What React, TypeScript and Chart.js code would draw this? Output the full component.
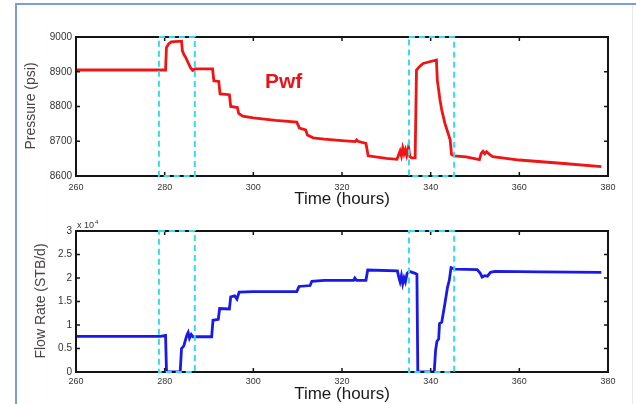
import React, { useEffect, useRef } from "react";
import { Chart, registerables } from "chart.js";

Chart.register(...registerables);

// Axis ticks
const timeTicks = [260, 280, 300, 320, 340, 360, 380];
const pressureTicks = [8600, 8700, 8800, 8900, 9000];
const flowTicks = [0, 0.5, 1, 1.5, 2, 2.5, 3];

// Bottom-hole flowing pressure (psi) vs time (hours)
const pressureTime = [
  260, 279.0, 280.2, 280.4, 280.9, 281.5, 283.8, 284.0, 284.4, 284.8, 285.3, 285.8, 286.3, 286.8,
  290.8, 291.1, 292.2, 292.5, 294.6, 294.9, 296.4, 296.7, 297.6, 300, 305, 309.8, 310.4, 311.8,
  312.2, 313.5, 316, 320, 323.0, 323.3, 323.6, 325.4, 325.9, 330, 332.4, 332.8, 333.1, 333.4,
  333.7, 334.0, 334.3, 334.6, 335.0, 335.3, 335.7, 336.5, 336.8, 337.5, 338.3, 341.3, 341.5,
  342.1, 342.5, 343.2, 344.4, 344.7, 345.3, 348, 351.0, 351.4, 351.8, 352.2, 352.6, 353.2,
  354.0, 360, 370, 378.5,
];
const pressureValue = [
  8905, 8905, 8905, 8970, 8980, 8986, 8988, 8960, 8948, 8940, 8926, 8912, 8904, 8908,
  8908, 8874, 8872, 8836, 8834, 8800, 8797, 8780, 8772, 8767, 8760, 8755, 8738, 8733,
  8718, 8710, 8706, 8702, 8699, 8704, 8700, 8694, 8658, 8651, 8648, 8662, 8672, 8658,
  8680, 8664, 8676, 8660, 8684, 8656, 8652, 8652, 8905, 8915, 8924, 8934, 8876,
  8819, 8790, 8752, 8704, 8662, 8658, 8655, 8647, 8665, 8671, 8664, 8670, 8663,
  8656, 8646, 8636, 8627,
];

// Flow rate (x10^4 STB/d) vs time (hours)
const flowTime = [
  260, 279.0, 280.2, 280.4, 280.6, 283.5, 283.8, 284.3, 284.6, 285.0, 285.3, 285.6, 286.0, 286.4,
  290.6, 290.9, 292.1, 292.4, 294.6, 294.9, 295.8, 296.3, 296.8, 300, 309.8, 310.3, 312.8, 313.2,
  316, 322.6, 322.9, 323.3, 325.4, 325.8, 332.5, 332.8, 333.1, 333.4, 333.7, 334.0, 334.3, 334.7,
  335.2, 336.5, 336.9, 337.1, 340.8, 341.1, 341.4, 341.8, 342.0, 342.5, 343.2, 343.8, 344.2,
  344.6, 345.5, 350.5, 351.2, 351.6, 352.2, 352.8, 353.5, 354.5, 365, 378.5,
];
const flowValue = [
  0.76, 0.76, 0.78, 0.05, 0, 0, 0.5, 0.55, 0.65, 0.78, 0.84, 0.72, 0.8, 0.75,
  0.75, 1.1, 1.12, 1.35, 1.34, 1.6, 1.62, 1.55, 1.7, 1.71, 1.71, 1.82, 1.84, 1.93,
  1.95, 1.95, 2.0, 1.95, 1.95, 2.17, 2.15, 2.02, 1.92, 2.05, 1.88, 2.0, 1.92, 2.1,
  2.14, 2.1, 2.08, 0, 0, 0.45, 0.65, 0.7, 1.03, 1.06, 1.45, 1.8, 1.95,
  2.22, 2.19, 2.18, 2.1, 2.02, 2.05, 2.04, 2.12, 2.14, 2.13, 2.12,
];

// Highlighted shut-in windows (hours)
const windowStart = [278.7, 335.1];
const windowEnd = [286.8, 345.3];

const FONT = "'Liberation Sans', Arial, Helvetica, sans-serif";
const W = 636;

type TextFn = (ctx: CanvasRenderingContext2D) => void;

function framePlugin(drawText: TextFn) {
  return {
    id: "frame",
    afterDatasetsDraw(chart: any) {
      const { ctx, chartArea: a, scales } = chart;
      const xs = scales.x;
      const ys = scales.y;
      ctx.save();
      // axes box
      ctx.strokeStyle = "#141414";
      ctx.lineWidth = 2;
      ctx.strokeRect(a.left, a.top, a.right - a.left, a.bottom - a.top);
      // inward tick marks on all four sides
      ctx.lineWidth = 1.5;
      const tl = 4;
      ctx.beginPath();
      xs.ticks.forEach((t: any) => {
        const px = xs.getPixelForValue(t.value);
        ctx.moveTo(px, a.bottom);
        ctx.lineTo(px, a.bottom - tl);
        ctx.moveTo(px, a.top);
        ctx.lineTo(px, a.top + tl);
      });
      ys.ticks.forEach((t: any) => {
        const py = ys.getPixelForValue(t.value);
        ctx.moveTo(a.left, py);
        ctx.lineTo(a.left + tl, py);
        ctx.moveTo(a.right, py);
        ctx.lineTo(a.right - tl, py);
      });
      ctx.stroke();
      // dashed shut-in windows
      ctx.strokeStyle = "#35dcec";
      ctx.lineWidth = 2;
      ctx.setLineDash([6, 4]);
      for (let i = 0; i < windowStart.length; i++) {
        const l = xs.getPixelForValue(windowStart[i]);
        const r = xs.getPixelForValue(windowEnd[i]);
        ctx.strokeRect(l, a.top, r - l, a.bottom - a.top);
      }
      ctx.setLineDash([]);
      drawText(ctx);
      ctx.restore();
    },
  };
}

function buildChart(
  canvas: HTMLCanvasElement,
  times: number[],
  values: number[],
  color: string,
  yTicks: number[],
  padTop: number,
  xAxisHeight: number,
  xTickPad: number,
  drawText: TextFn
) {
  const data = times.map((t, i) => ({ x: t, y: values[i] }));
  return new Chart(canvas, {
    type: "line",
    data: {
      datasets: [
        {
          data,
          borderColor: color,
          borderWidth: 2.8,
          pointRadius: 0,
          tension: 0,
          fill: false,
        },
      ],
    },
    options: {
      animation: false,
      responsive: false,
      devicePixelRatio: 1,
      layout: { padding: { left: 0, top: padTop, right: 28, bottom: 0 } },
      plugins: { legend: { display: false }, tooltip: { enabled: false } },
      scales: {
        x: {
          type: "linear",
          min: timeTicks[0],
          max: timeTicks[timeTicks.length - 1],
          afterBuildTicks: (s: any) => {
            s.ticks = timeTicks.map((v) => ({ value: v }));
          },
          afterFit: (s: any) => {
            s.height = xAxisHeight;
          },
          grid: { display: false, drawTicks: false },
          border: { display: false },
          ticks: {
            padding: xTickPad,
            maxRotation: 0,
            autoSkip: false,
            color: "#333",
            font: { family: FONT, size: 9 },
          },
        },
        y: {
          type: "linear",
          min: yTicks[0],
          max: yTicks[yTicks.length - 1],
          afterBuildTicks: (s: any) => {
            s.ticks = yTicks.map((v) => ({ value: v }));
          },
          afterFit: (s: any) => {
            s.width = 76;
          },
          grid: { display: false, drawTicks: false },
          border: { display: false },
          ticks: {
            padding: 4,
            autoSkip: false,
            color: "#333",
            font: { family: FONT, size: 10 },
            callback: (v: any) => String(v),
          },
        },
      },
    },
    plugins: [framePlugin(drawText)],
  });
}

function rotatedLabel(ctx: CanvasRenderingContext2D, text: string, x: number, y: number) {
  ctx.save();
  ctx.translate(x, y);
  ctx.rotate(-Math.PI / 2);
  ctx.fillStyle = "#4a4444";
  ctx.font = `14px ${FONT}`;
  ctx.textAlign = "center";
  ctx.textBaseline = "middle";
  ctx.fillText(text, 0, 0);
  ctx.restore();
}

function timeLabel(ctx: CanvasRenderingContext2D, y: number) {
  ctx.fillStyle = "#1a1a1a";
  ctx.font = `17px ${FONT}`;
  ctx.textAlign = "center";
  ctx.textBaseline = "middle";
  ctx.fillText("Time (hours)", 342, y);
}

export default function App() {
  const topRef = useRef<HTMLCanvasElement>(null);
  const botRef = useRef<HTMLCanvasElement>(null);

  useEffect(() => {
    const top = buildChart(
      topRef.current!,
      pressureTime,
      pressureValue,
      "#f01414",
      pressureTicks,
      37,
      34,
      6,
      (ctx) => {
        timeLabel(ctx, 199);
        rotatedLabel(ctx, "Pressure (psi)", 31, 106);
        ctx.fillStyle = "#e8141a";
        ctx.font = `bold 21px ${FONT}`;
        ctx.textAlign = "left";
        ctx.textBaseline = "alphabetic";
        ctx.fillText("Pwf", 265, 88);
      }
    );
    const bottom = buildChart(
      botRef.current!,
      flowTime,
      flowValue,
      "#1a1ae8",
      flowTicks,
      21,
      32,
      4,
      (ctx) => {
        timeLabel(ctx, 184);
        rotatedLabel(ctx, "Flow Rate (STB/d)", 41, 91);
        ctx.fillStyle = "#333";
        ctx.textAlign = "left";
        ctx.textBaseline = "alphabetic";
        ctx.font = `9px ${FONT}`;
        ctx.fillText("x 10", 77, 18);
        ctx.font = `6px ${FONT}`;
        ctx.fillText("4", 95, 14);
      }
    );
    return () => {
      top.destroy();
      bottom.destroy();
    };
  }, []);

  return (
    <div
      style={{
        position: "fixed",
        left: 0,
        top: 0,
        width: W,
        height: 404,
        background: "#fff",
        overflow: "hidden",
      }}
    >
      <div
        style={{
          position: "absolute",
          left: 15,
          top: 3,
          width: 700,
          height: 500,
          borderTop: "2px solid #7d9bdc",
          borderLeft: "2px solid #7d9bdc",
        }}
      />
      <div
        style={{
          position: "absolute",
          left: 632,
          top: 5,
          width: 1,
          height: 399,
          background: "#e8e8e8",
        }}
      />
      <canvas
        ref={topRef}
        width={W}
        height={210}
        style={{ position: "absolute", left: 0, top: 0, display: "block" }}
      />
      <canvas
        ref={botRef}
        width={W}
        height={194}
        style={{ position: "absolute", left: 0, top: 210, display: "block" }}
      />
    </div>
  );
}
